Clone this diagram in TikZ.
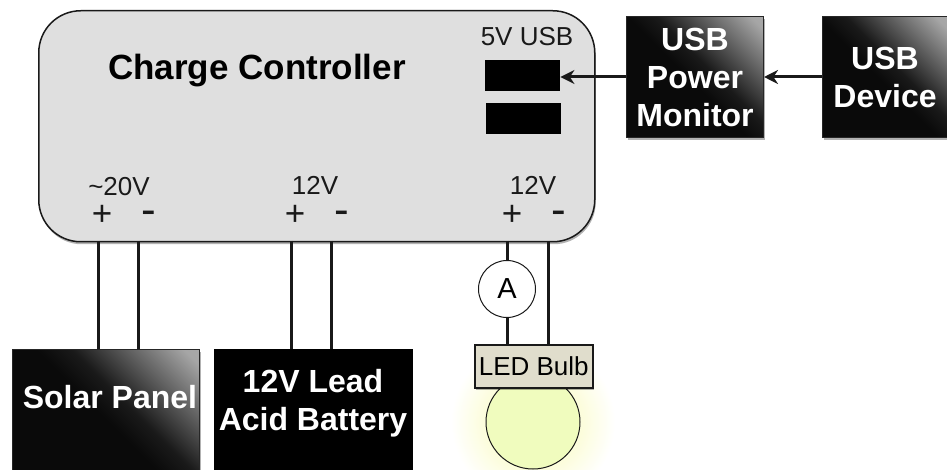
\documentclass[tikz,border=0pt]{standalone}
\usepackage{fontspec}
\setmainfont{Liberation Sans}
\usetikzlibrary{shadows,arrows.meta}
\definecolor{ctrlgray}{HTML}{DFDFDF}
\definecolor{ledbox}{HTML}{E0DDCC}
\definecolor{bulbfill}{HTML}{F0FCBE}
\definecolor{glowa}{HTML}{FCFDDC}
\pgfdeclarehorizontalshading{glossy}{100bp}{color(0bp)=(black!96); color(48bp)=(black!96); color(56bp)=(black!90); color(82bp)=(black!35); color(100bp)=(black!30)}
\pgfdeclareradialshading{glow}{\pgfpointorigin}{color(0bp)=(glowa); color(15bp)=(glowa); color(25bp)=(white); color(50bp)=(white)}
\tikzset{
  softshadow/.style={drop shadow={shadow xshift=1pt,shadow yshift=-2.5pt,opacity=0.3,fill=black}},
  boldtext/.style={text=white,align=center,font=\fontsize{32}{38}\selectfont\bfseries,inner sep=0pt},
  darkbox/.style={draw=black!85,line width=1pt,shading=glossy,shading angle=45,softshadow,boldtext,anchor=north west},
  portbox/.style={fill=black,draw=none,anchor=north west,inner sep=0pt},
  lbl/.style={font=\fontsize{26}{30}\selectfont,inner sep=0pt,text=black!90},
  plussign/.style={font=\fontsize{35}{35}\selectfont,inner sep=0pt,text=black!90},
  minussign/.style={font=\fontsize{44}{44}\selectfont,inner sep=0pt,text=black!90},
  wire/.style={draw=black!90,line width=3pt},
  arrowline/.style={draw=black!90,line width=3pt,-{Stealth[length=14pt,width=14pt]}},
}
\begin{document}
\begin{tikzpicture}[x=1pt,y=-1pt]
\useasboundingbox (0,0) rectangle (947,470);
% controller
\node[draw=black!90,line width=1.5pt,fill=ctrlgray,rounded corners=42pt,minimum width=556pt,minimum height=231pt,anchor=north west,inner sep=0pt,softshadow] (ctrl) at (38,10) {};
\node[font=\fontsize{35}{40}\selectfont\bfseries,inner sep=0pt] (title) at (257,71) {Charge Controller};
\node[lbl] (usbl) at (527,37) {5V USB};
\node[portbox,minimum width=75pt,minimum height=31pt] (port1) at (485,59.5) {};
\node[portbox,minimum width=75pt,minimum height=31pt] (port2) at (486,103) {};
\node[lbl] (v20) at (119,187) {\char`\~20V};
\node[lbl] (v12a) at (315,185) {12V};
\node[lbl] (v12b) at (533,185) {12V};
\node[plussign] (p1) at (102,215) {+};
\node[minussign] (m1) at (149,218) {-};
\node[plussign] (p2) at (295,215) {+};
\node[minussign] (m2) at (342,218) {-};
\node[plussign] (p3) at (512,215) {+};
\node[minussign] (m3) at (559,218) {-};
% top boxes
\node[darkbox,minimum width=137pt,minimum height=121pt] (mon) at (626,16) {USB\\Power\\Monitor};
\node[darkbox,minimum width=125pt,minimum height=121pt] (dev) at (822,16) {USB\\Device};
% bottom boxes
\node[darkbox,minimum width=187pt,minimum height=121pt] (solar) at (12,349) {};
\node[boldtext] (solart) at (110,397) {Solar Panel};
\node[draw=none,fill=black,minimum width=199pt,minimum height=121pt,anchor=north west,inner sep=0pt] (batt) at (214,349) {};
\node[boldtext] (battt) at (313,403) {12V Lead\\Acid Battery};
% bulb
\begin{scope}
\clip (0,0) rectangle (947,470);
\shade[shading=glow] (533,422) circle (82pt);
\end{scope}
\node[circle,draw=black!90,line width=1pt,fill=bulbfill,minimum size=94pt,inner sep=0pt] (bulb) at (533,422) {};
\node[draw=black!90,line width=1.5pt,fill=ledbox,minimum width=118pt,minimum height=43pt,anchor=north west,inner sep=0pt,softshadow,font=\fontsize{26}{30}\selectfont] (led) at (474,344) {LED Bulb};
% ammeter
\node[circle,draw=black!90,line width=1pt,fill=white,minimum size=57pt,inner sep=0pt,font=\fontsize{29}{32}\selectfont] (amm) at (507,289) {A};
% terminals
\coordinate (t1) at (98,241);
\coordinate (t2) at (138,241);
\coordinate (t3) at (291,241);
\coordinate (t4) at (331,241);
\coordinate (t5) at (507,241);
\coordinate (t6) at (548,241);
\draw[wire] (t1) -- (t1 |- solar.north);
\draw[wire] (t2) -- (t2 |- solar.north);
\draw[wire] (t3) -- (t3 |- batt.north);
\draw[wire] (t4) -- (t4 |- batt.north);
\draw[wire] (t5) -- (amm.north);
\draw[wire] (amm.south) -- (amm.south |- led.north);
\draw[wire] (t6) -- (t6 |- led.north);
\draw[arrowline] (mon.west) -- (port1.east |- mon.west);
\draw[arrowline] (dev.west) -- (mon.east);
\end{tikzpicture}
\end{document}
